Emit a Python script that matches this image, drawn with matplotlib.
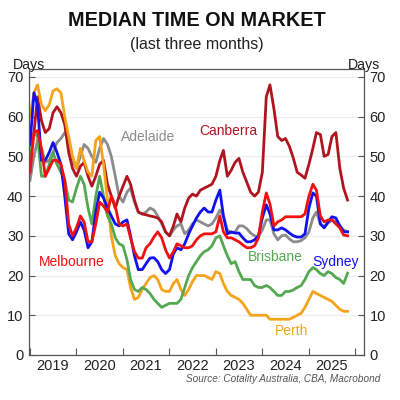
import numpy as np
import pandas as pd
import matplotlib
matplotlib.use("Agg")
import matplotlib.pyplot as plt
import matplotlib.dates as mdates

plt.rcParams['font.family'] = ['Liberation Sans', 'DejaVu Sans']

# monthly, Jan 2019 onwards
months = pd.date_range('2019-01-01', periods=83, freq='MS')

perth = [60, 66, 68, 63, 61.5, 63, 66.5, 67, 66, 60, 55, 50, 47, 52, 49, 46, 45, 54, 55, 48,
         39, 30, 25, 23, 22, 21.5, 17, 14, 14.5, 16.5, 18, 19.5, 20, 19, 16.5, 16, 16, 18, 19, 16.5,
         15, 16.5, 18.5, 20, 20, 20, 19.5, 19, 21, 20.5, 18, 16, 15, 14.5, 14, 13, 11.5, 10, 10, 10,
         10, 10, 9, 9, 9, 9, 9, 9, 9.5, 10, 10.5, 12, 14, 16, 15.5, 15, 14.5, 14, 13.5, 12.5,
         11.5, 11, 11]
brisbane = [50, 56, 55, 45, 45, 48, 51, 48, 46, 44, 39, 38.5, 42, 45, 43, 37, 33, 40, 45, 40,
            35, 33, 29.5, 28, 27.5, 24, 19, 16.5, 16, 17, 16.5, 15.5, 14, 13, 12, 12.5, 13, 13, 13, 14,
            17, 20, 22, 23.5, 25, 26, 26.5, 27.5, 29.5, 30, 27.5, 25, 23, 23.5, 21, 19, 19, 19, 17.5, 17,
            17, 17.5, 17, 16, 15, 15, 16, 16, 16.4, 17, 17.5, 19, 21, 22, 21.5, 20.5, 20, 21, 20.5, 19.5,
            19, 18, 20.6]
melbourne = [46, 56, 56.5, 52, 45, 47, 49, 49, 48, 44, 33, 30, 32, 35, 33.5, 28.5, 28.5, 33, 38.5, 37.5,
             36, 40, 37.5, 33, 32.5, 33, 29.5, 26, 24.4, 24.4, 27, 28, 29.7, 31, 29.5, 26.5, 24.4, 26, 28, 27.5,
             27, 27, 27.5, 29, 30, 30.5, 30.5, 30.5, 31, 35, 31, 29.5, 29.5, 29, 28.5, 27.7, 27, 27, 27.5, 29.5,
             36, 40.8, 38, 32.5, 33.5, 34, 34.8, 34.8, 34.8, 34.8, 34.8, 35.5, 40, 43, 41.5, 35, 33.5, 34, 34, 33,
             32, 30.2, 30]
sydney = [53, 66, 63, 49, 49, 51, 53.5, 51, 48, 40, 30.5, 29, 31, 33.5, 31.5, 27, 28.5, 36, 41, 39.5,
          37, 35, 33, 32.5, 33.5, 34, 30, 25, 21.5, 21.5, 23, 24.4, 24.5, 23.5, 21.5, 20.5, 21.5, 25.5, 27, 26.5,
          28, 30.5, 32.5, 34.5, 36, 37, 36, 36, 39, 41.5, 35, 30.5, 31, 30.7, 30.7, 29.5, 28.5, 28.5, 29, 30,
          34.5, 37.8, 35.5, 31.5, 31.5, 32, 31.5, 30.7, 30, 29.7, 29.7, 30.5, 37, 40.8, 40, 33, 32, 33.5, 34.8, 34.5,
          32.5, 31, 31]
adelaide = [44, 50, 54, 52, 48.5, 49, 51, 53.5, 54.5, 56, 54, 49, 47, 50, 53, 52, 50, 48.5, 52, 54.5,
            53, 50, 45, 40, 38.5, 41, 42, 38.5, 36, 35.5, 36, 37, 36.5, 35, 33, 31, 30, 31.5, 32.5, 33,
            30.5, 31.5, 33, 34, 33.5, 33, 32.5, 33, 34.5, 36.5, 35, 31.5, 30.7, 31, 32.5, 32.5, 31.8, 30.7, 30, 29.7,
            31.5, 34, 34, 30.5, 29, 30, 30.2, 29.2, 28.5, 28.5, 28.8, 29.5, 31, 34.5, 36, 33, 32.3, 33.2, 34, 33.5,
            32.5, 31.5, 31]
canberra = [50, 56, 65, 59, 56, 57, 61, 62.5, 61, 58, 51, 47, 45, 47.5, 48.5, 45, 42.5, 45, 48, 49,
            43, 40, 37, 40, 42.5, 45, 43, 39, 36, 35.5, 35.3, 35, 34.8, 34.5, 33.5, 31, 30, 32.5, 35.5, 33.5,
            37, 39.5, 40.5, 40, 41.5, 42, 42.5, 43, 45, 49, 51.5, 45, 46.5, 48.5, 49.5, 46, 43.5, 41, 40, 41,
            46, 65, 68, 62, 55, 54, 54.5, 52.5, 49.5, 46, 45.3, 44.5, 48, 52, 56, 55.5, 50, 50.5, 55, 56,
            47, 42, 39]

years = [2019, 2020, 2021, 2022, 2023, 2024, 2025]

series = [
    ('Adelaide', adelaide, '#8c8c8c'),
    ('Canberra', canberra, '#b0141e'),
    ('Perth', perth, '#f5a31a'),
    ('Brisbane', brisbane, '#55a852'),
    ('Sydney', sydney, '#1010f0'),
    ('Melbourne', melbourne, '#f01010'),
]

fig = plt.figure(figsize=(4, 4), dpi=100)
ax = fig.add_axes([0.0725, 0.1125, 0.8375, 0.715])

for name, vals, col in series:
    ax.plot(months, vals, color=col, lw=2.0, solid_joinstyle='round')

# labels next to lines
labels = {
    'Adelaide': (pd.Timestamp('2021-07-20'), 54.9),
    'Canberra': (pd.Timestamp('2023-04-05'), 56.4),
    'Melbourne': (pd.Timestamp('2019-11-25'), 23.4),
    'Brisbane': (pd.Timestamp('2024-04-15'), 24.7),
    'Sydney': (pd.Timestamp('2025-07-30'), 23.4),
    'Perth': (pd.Timestamp('2024-08-15'), 6.0),
}
for name, vals, col in series:
    lx, ly = labels[name]
    ax.text(lx, ly, name, color=col, fontsize=10, ha='center', va='center')

ax.set_ylim(0, 72)
ax.set_yticks(np.arange(0, 71, 10))
ax.set_xlim(pd.Timestamp('2018-12-24'), pd.Timestamp('2026-03-10'))
ax.grid(axis='y', color='#ebebeb', lw=0.8)
ax.set_axisbelow(True)

ax.xaxis.set_major_locator(mdates.YearLocator())
ax.xaxis.set_major_formatter(plt.NullFormatter())
ax.set_xticks([pd.Timestamp(f'{y}-07-01') for y in years], minor=True)
ax.set_xticklabels([str(y) for y in years], minor=True)
ax.tick_params(axis='x', which='major', direction='in', length=5, color='#555555')
ax.tick_params(axis='x', which='minor', length=0, pad=3, labelsize=10.5, labelcolor='#222222')
ax.tick_params(axis='y', direction='in', length=4, left=True, right=True,
               labelleft=True, labelright=True, labelsize=10.5, labelcolor='#222222',
               color='#555555', pad=4)

for s in ax.spines.values():
    s.set_color('#555555')
    s.set_linewidth(0.9)

fig.text(0.4925, 0.95, 'MEDIAN TIME ON MARKET', ha='center', va='center',
         fontsize=14.3, fontweight='bold', color='#111111')
fig.text(0.4925, 0.888, '(last three months)', ha='center', va='center',
         fontsize=11.5, color='#222222')
fig.text(0.0325, 0.8375, 'Days', ha='left', va='center', fontsize=10.2, color='#222222')
fig.text(0.87, 0.8375, 'Days', ha='left', va='center', fontsize=10.2, color='#222222')
fig.text(0.95, 0.052, 'Source: Cotality Australia, CBA, Macrobond', ha='right', va='center',
         fontsize=7.2, style='italic', color='#555555')

fig.savefig('out.png', dpi=100)
